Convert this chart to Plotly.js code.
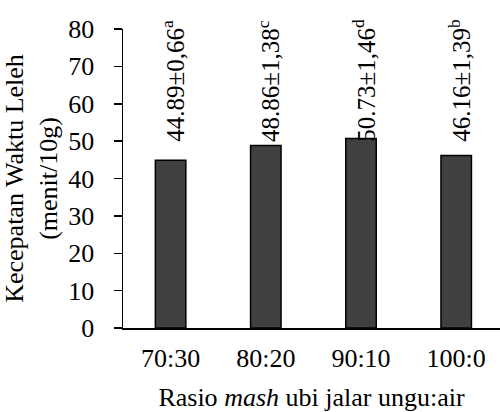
<!DOCTYPE html>
<html>
<head>
<meta charset="utf-8">
<script src="https://cdn.plot.ly/plotly-3.0.1.min.js"></script>
<style>html,body{margin:0;padding:0;background:#fff}#chart{width:500px;height:412px}</style>
</head>
<body>
<div id="chart"></div>
<script>
const categories = ["70:30", "80:20", "90:10", "100:0"];
const values = [44.89, 48.86, 50.73, 46.16];
const sds = ["0,66", "1,38", "1,46", "1,39"];
const letters = ["a", "c", "d", "b"];
const yTicks = [0, 10, 20, 30, 40, 50, 60, 70, 80];

const font = "Liberation Serif, Times New Roman, Times, serif";

const trace = {
  type: "bar",
  x: categories,
  y: values,
  marker: { color: "#404040", line: { color: "#000", width: 1.5 } },
  hoverinfo: "skip"
};

const annotations = categories.map((c, i) => ({
  x: c,
  y: 49.2,
  xref: "x",
  yref: "y",
  xshift: 3,
  text: values[i].toFixed(2) + "±" + sds[i] + "<sup>" + letters[i] + "</sup>",
  textangle: -90,
  showarrow: false,
  xanchor: "center",
  yanchor: "bottom",
  font: { family: font, size: 25, color: "#000" }
}));

const layout = {
  width: 500,
  height: 412,
  margin: { l: 123, r: 0, t: 29, b: 84, pad: 0 },
  paper_bgcolor: "#fff",
  plot_bgcolor: "#fff",
  showlegend: false,
  bargap: 0.68,
  font: { family: font, color: "#000" },
  xaxis: {
    type: "category",
    range: [-0.5, 3.46],
    showline: true,
    linecolor: "#000",
    linewidth: 1.5,
    ticks: "",
    ticklabelstandoff: 6,
    showgrid: false,
    zeroline: false,
    tickfont: { family: font, size: 26, color: "#000" },
    title: {
      text: "Rasio <i>mash</i> ubi jalar ungu:air",
      font: { family: font, size: 26, color: "#000" },
      standoff: 16
    }
  },
  yaxis: {
    range: [0, 80],
    tickvals: yTicks,
    ticktext: yTicks.map(String),
    showline: true,
    linecolor: "#000",
    linewidth: 1.5,
    ticks: "outside",
    ticklen: 8,
    tickwidth: 1.5,
    tickcolor: "#000",
    ticklabelstandoff: 14,
    showgrid: false,
    zeroline: false,
    tickfont: { family: font, size: 26, color: "#000" },
    title: {
      text: "Kecepatan Waktu Leleh<br>(menit/10g)",
      font: { family: font, size: 26, color: "#000" },
      standoff: 9
    }
  },
  annotations: annotations
};

Plotly.newPlot("chart", [trace], layout, { displayModeBar: false, staticPlot: true });
</script>
</body>
</html>
